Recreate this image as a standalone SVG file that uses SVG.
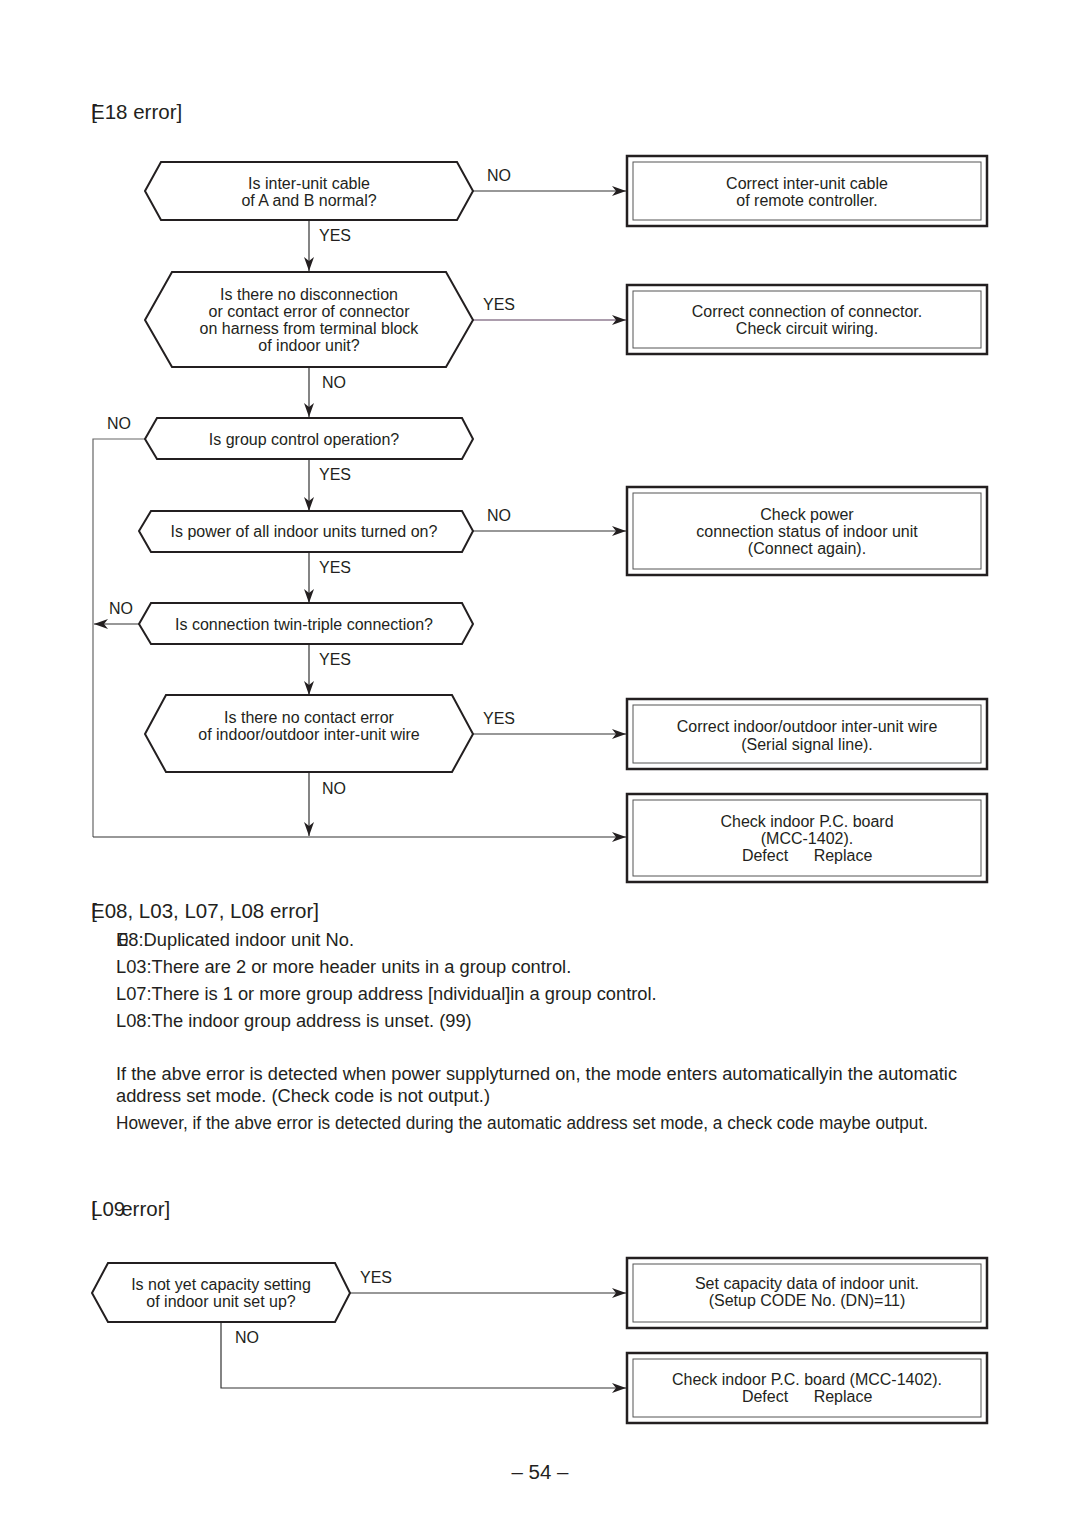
<svg xmlns="http://www.w3.org/2000/svg" width="1080" height="1525" viewBox="0 0 1080 1525">
<style>
text{font-family:"Liberation Sans",Arial,sans-serif;fill:#231f20}
.t{font-size:16px;text-anchor:middle}
.l{font-size:16px}
.b{font-size:18.3px}
.h{font-size:20.5px}
.hex{fill:#fff;stroke:#231f20;stroke-width:2}
.ob{fill:#fff;stroke:#231f20;stroke-width:2.5}
.ib{fill:none;stroke:#555;stroke-width:1}
.c{fill:none;stroke:#333;stroke-width:1.2}
</style>
<defs>
<marker id="ah" viewBox="0 0 14 10" refX="14" refY="5" markerWidth="14" markerHeight="10" markerUnits="userSpaceOnUse" orient="auto">
<path d="M0,0 L14,5 L0,10 L4,5 Z" fill="#231f20"/>
</marker>
</defs>
<rect width="1080" height="1525" fill="#fff"/>

<text class="h" x="91" y="119">[<tspan dx="-6">E18 error]</tspan></text>

<g id="connectors">
<line class="c" x1="473" y1="191" x2="626" y2="191" marker-end="url(#ah)"/>
<line class="c" x1="309" y1="220" x2="309" y2="271" marker-end="url(#ah)"/>
<line class="c" x1="473" y1="320" x2="626" y2="320" marker-end="url(#ah)" style="stroke:#5a3d5c"/>
<line class="c" x1="309" y1="367" x2="309" y2="417" marker-end="url(#ah)"/>
<polyline class="c" points="145,439 93,439 93,837" style="stroke:#666"/>
<line class="c" x1="309" y1="459" x2="309" y2="511" marker-end="url(#ah)"/>
<line class="c" x1="473" y1="531" x2="626" y2="531" marker-end="url(#ah)"/>
<line class="c" x1="309" y1="552" x2="309" y2="603" marker-end="url(#ah)"/>
<line class="c" x1="139" y1="624" x2="94" y2="624" marker-end="url(#ah)"/>
<line class="c" x1="309" y1="644" x2="309" y2="695" marker-end="url(#ah)"/>
<line class="c" x1="473" y1="734" x2="626" y2="734" marker-end="url(#ah)"/>
<line class="c" x1="309" y1="772" x2="309" y2="836" marker-end="url(#ah)"/>
<line class="c" x1="93" y1="837" x2="626" y2="837" marker-end="url(#ah)"/>
<line class="c" x1="350" y1="1293" x2="626" y2="1293" marker-end="url(#ah)"/>
<polyline class="c" points="221,1322 221,1388 626,1388" marker-end="url(#ah)"/>
<text class="l" x="487" y="181">NO</text>
<text class="l" x="319" y="241">YES</text>
<text class="l" x="483" y="310">YES</text>
<text class="l" x="322" y="388">NO</text>
<text class="l" x="107" y="429">NO</text>
<text class="l" x="319" y="480">YES</text>
<text class="l" x="487" y="521">NO</text>
<text class="l" x="319" y="573">YES</text>
<text class="l" x="109" y="614">NO</text>
<text class="l" x="319" y="665">YES</text>
<text class="l" x="483" y="724">YES</text>
<text class="l" x="322" y="794">NO</text>
<text class="l" x="360" y="1283">YES</text>
<text class="l" x="235" y="1343">NO</text>
</g>

<g id="q1">
<polygon class="hex" points="145,191 161,162 457,162 473,191 457,220 161,220"/>
<text class="t" x="309" y="189">Is inter-unit cable</text>
<text class="t" x="309" y="206">of A and B normal?</text>
</g>
<g id="q2">
<polygon class="hex" points="145,320 172,272 446,272 473,320 446,367 172,367"/>
<text class="t" x="309" y="300">Is there no disconnection</text>
<text class="t" x="309" y="317">or contact error of connector</text>
<text class="t" x="309" y="334">on harness from terminal block</text>
<text class="t" x="309" y="351">of indoor unit?</text>
</g>
<g id="q3">
<polygon class="hex" points="145,439 157,418 462,418 473,439 462,459 157,459"/>
<text class="t" x="304" y="445">Is group control operation?</text>
</g>
<g id="q4">
<polygon class="hex" points="139,531 151,511 462,511 473,531 462,552 151,552"/>
<text class="t" x="304" y="537">Is power of all indoor units turned on?</text>
</g>
<g id="q5">
<polygon class="hex" points="139,624 151,603 462,603 473,624 462,644 151,644"/>
<text class="t" x="304" y="630">Is connection twin-triple connection?</text>
</g>
<g id="q6">
<polygon class="hex" points="145,734 166,695 452,695 473,734 452,772 166,772"/>
<text class="t" x="309" y="723">Is there no contact error</text>
<text class="t" x="309" y="740">of indoor/outdoor inter-unit wire</text>
</g>

<g id="r1">
<rect class="ob" x="627" y="156" width="360" height="70"/>
<rect class="ib" x="633" y="162" width="348" height="58"/>
<text class="t" x="807" y="189">Correct inter-unit cable</text>
<text class="t" x="807" y="206">of remote controller.</text>
</g>
<g id="r2">
<rect class="ob" x="627" y="285" width="360" height="69"/>
<rect class="ib" x="633" y="291" width="348" height="57"/>
<text class="t" x="807" y="317">Correct connection of connector.</text>
<text class="t" x="807" y="334">Check circuit wiring.</text>
</g>
<g id="r3">
<rect class="ob" x="627" y="487" width="360" height="88"/>
<rect class="ib" x="633" y="493" width="348" height="76"/>
<text class="t" x="807" y="520">Check power</text>
<text class="t" x="807" y="537">connection status of indoor unit</text>
<text class="t" x="807" y="554">(Connect again).</text>
</g>
<g id="r4">
<rect class="ob" x="627" y="699" width="360" height="70"/>
<rect class="ib" x="633" y="705" width="348" height="58"/>
<text class="t" x="807" y="732">Correct indoor/outdoor inter-unit wire</text>
<text class="t" x="807" y="750">(Serial signal line).</text>
</g>
<g id="r5">
<rect class="ob" x="627" y="794" width="360" height="88"/>
<rect class="ib" x="633" y="800" width="348" height="76"/>
<text class="t" x="807" y="827">Check indoor P.C. board</text>
<text class="t" x="807" y="844">(MCC-1402).</text>
<text class="t" x="765" y="861">Defect</text>
<text class="t" x="843" y="861">Replace</text>
</g>

<g id="notes">
<text class="h" x="91" y="918">[<tspan dx="-6">E08, L03, L07, L08 error]</tspan></text>
<text class="b" x="116" y="946">E<tspan dx="-10">08:Duplicated indoor unit No.</tspan></text>
<text class="b" x="116" y="973">L03:There are 2 or more header units in a group control.</text>
<text class="b" x="116" y="1000">L07:There is 1 or more group address [ndividual]in a group control.</text>
<text class="b" x="116" y="1027">L08:The indoor group address is unset. (99)</text>
<text class="b" x="116" y="1080" textLength="841" lengthAdjust="spacingAndGlyphs">If the abve error is detected when power supplyturned on, the mode enters automaticallyin the automatic</text>
<text class="b" x="116" y="1102" textLength="374" lengthAdjust="spacingAndGlyphs">address set mode. (Check code is not output.)</text>
<text class="b" x="116" y="1129" textLength="812" lengthAdjust="spacingAndGlyphs">However, if the abve error is detected during the automatic address set mode, a check code maybe output.</text>
<text class="h" x="91" y="1216">[<tspan dx="-6">L09</tspan><tspan dx="-4">error]</tspan></text>
</g>

<g id="q7">
<polygon class="hex" points="92,1293 108,1263 335,1263 350,1293 335,1322 108,1322"/>
<text class="t" x="221" y="1290">Is not yet capacity setting</text>
<text class="t" x="221" y="1307">of indoor unit set up?</text>
</g>
<g id="r6">
<rect class="ob" x="627" y="1258" width="360" height="70"/>
<rect class="ib" x="633" y="1264" width="348" height="58"/>
<text class="t" x="807" y="1289">Set capacity data of indoor unit.</text>
<text class="t" x="807" y="1306">(Setup CODE No. (DN)=11)</text>
</g>
<g id="r7">
<rect class="ob" x="627" y="1353" width="360" height="70"/>
<rect class="ib" x="633" y="1359" width="348" height="58"/>
<text class="t" x="807" y="1385">Check indoor P.C. board (MCC-1402).</text>
<text class="t" x="765" y="1402">Defect</text>
<text class="t" x="843" y="1402">Replace</text>
</g>

<text class="h" x="540" y="1479" text-anchor="middle">– 54 –</text>
</svg>
